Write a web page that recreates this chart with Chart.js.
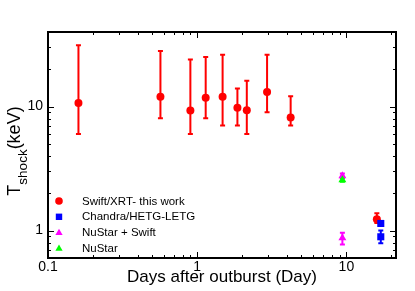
<!DOCTYPE html>
<html lang="en">
<head>
  <meta charset="UTF-8">
  <title>T shock vs days after outburst</title>
  <script src="https://cdn.jsdelivr.net/npm/chart.js"></script>
  <style>
    body { margin: 0; background: #fff; }
    #wrap { width: 415px; height: 291px; position: relative; }
  </style>
</head>
<body>
  <div id="wrap"><canvas id="tempChart"></canvas></div>

  <script>
    // values (days, keV)
    const swiftDays = [0.16, 0.567, 0.90, 1.14, 1.48, 1.86, 2.15, 2.94, 4.23, 16.0];
    const swiftT    = [10.7, 12.0, 9.3, 11.8, 12.0, 9.8, 9.33, 13.1, 8.15, 1.23];
    const swiftLo   = [6.0, 8.05, 6.0, 8.05, 7.03, 7.03, 6.0, 9.0, 7.03, 1.15];
    const swiftHi   = [31.2, 28.1, 24.0, 25.1, 26.2, 14.0, 16.2, 26.2, 12.1, 1.38];

    const chandraDays = [17.0, 17.0];
    const chandraT    = [1.14, 0.89];
    const chandraLo   = [1.09, 0.79];
    const chandraHi   = [1.19, 1.0];

    const nuSwiftDays = [9.4, 9.4];
    const nuSwiftT    = [2.76, 0.87];
    const nuSwiftLo   = [2.64, 0.77];
    const nuSwiftHi   = [2.88, 0.96];

    const nuDays = [9.4];
    const nuT    = [2.56];
    const nuLo   = [2.47];
    const nuHi   = [2.66];

    const xTicks = [0.1, 1, 10];
    const yTicks = [1, 10];

    const FONT = "'Liberation Sans', Arial, Helvetica, sans-serif";

    function pts(xs, ys) {
      return xs.map((x, i) => ({ x: x, y: ys[i] }));
    }

    function drawMarker(ctx, style, x, y, r, color) {
      ctx.fillStyle = color;
      ctx.beginPath();
      if (style === 'circle') {
        ctx.arc(x, y, r, 0, Math.PI * 2);
      } else if (style === 'rect') {
        ctx.rect(x - r, y - r, 2 * r, 2 * r);
      } else {
        ctx.moveTo(x, y - r);
        ctx.lineTo(x + r * 0.95, y + r * 0.65);
        ctx.lineTo(x - r * 0.95, y + r * 0.65);
        ctx.closePath();
      }
      ctx.fill();
    }

    const errorBars = {
      id: 'errorBars',
      beforeDatasetsDraw(chart) {
        const ctx = chart.ctx;
        const xs = chart.scales.x, ys = chart.scales.y;
        ctx.save();
        chart.data.datasets.forEach(ds => {
          ctx.strokeStyle = ds.backgroundColor;
          ctx.lineWidth = 2;
          ds.data.forEach((p, i) => {
            const px = xs.getPixelForValue(p.x);
            const y1 = ys.getPixelForValue(ds.errLo[i]);
            const y2 = ys.getPixelForValue(ds.errHi[i]);
            ctx.beginPath();
            ctx.moveTo(px, y1); ctx.lineTo(px, y2);
            ctx.moveTo(px - 2.5, y1); ctx.lineTo(px + 2.5, y1);
            ctx.moveTo(px - 2.5, y2); ctx.lineTo(px + 2.5, y2);
            ctx.stroke();
          });
        });
        ctx.restore();
      }
    };

    function logTicks(min, max) {
      const out = [];
      for (let e = -2; e <= 2; e++) {
        for (let m = 1; m <= 9; m++) {
          const v = m * Math.pow(10, e);
          if (v >= min * 0.999 && v <= max * 1.001) out.push({ v: v, major: m === 1 });
        }
      }
      return out;
    }

    const frame = {
      id: 'frame',
      afterDraw(chart) {
        const ctx = chart.ctx;
        const a = chart.chartArea;
        const xs = chart.scales.x, ys = chart.scales.y;
        ctx.save();
        ctx.strokeStyle = '#000';
        ctx.lineWidth = 1;
        ctx.beginPath();
        logTicks(xs.min, xs.max).forEach(t => {
          const px = Math.round(xs.getPixelForValue(t.v)) + 0.5;
          const len = t.major ? 6 : 3;
          ctx.moveTo(px, a.bottom); ctx.lineTo(px, a.bottom - len);
          ctx.moveTo(px, a.top); ctx.lineTo(px, a.top + len);
        });
        logTicks(ys.min, ys.max).forEach(t => {
          const py = Math.round(ys.getPixelForValue(t.v)) + 0.5;
          const len = t.major ? 6 : 3;
          ctx.moveTo(a.left, py); ctx.lineTo(a.left + len, py);
          ctx.moveTo(a.right, py); ctx.lineTo(a.right - len, py);
        });
        ctx.stroke();
        ctx.lineWidth = 2;
        ctx.strokeRect(a.left, a.top, a.right - a.left, a.bottom - a.top);

        // y title with subscript
        const big = 18, small = 13.5;
        ctx.fillStyle = '#000';
        ctx.textBaseline = 'alphabetic';
        ctx.textAlign = 'left';
        ctx.font = big + 'px ' + FONT;
        const wT = ctx.measureText('T').width;
        const wK = ctx.measureText('(keV)').width;
        ctx.font = small + 'px ' + FONT;
        const wS = ctx.measureText('shock').width;
        const total = wT + wS + wK;
        ctx.translate(20, 151 + total / 2);
        ctx.rotate(-Math.PI / 2);
        ctx.font = big + 'px ' + FONT;
        ctx.fillText('T', 0, 0);
        ctx.font = small + 'px ' + FONT;
        ctx.fillText('shock', wT, 7);
        ctx.font = big + 'px ' + FONT;
        ctx.fillText('(keV)', wT + wS, 0);
        ctx.restore();

        // legend inside the plot
        ctx.save();
        ctx.font = '11.5px ' + FONT;
        ctx.textBaseline = 'middle';
        ctx.fillStyle = '#000';
        chart.data.datasets.forEach((ds, i) => {
          const y = 201 + i * 15.8;
          const r = ds.pointStyle === 'rect' ? 3.2 : 3.8;
          drawMarker(ctx, ds.pointStyle, 59, y, r, ds.backgroundColor);
          ctx.fillStyle = '#000';
          ctx.fillText(ds.label, 82, y + 0.5);
        });
        ctx.restore();
      }
    };

    new Chart(document.getElementById('tempChart'), {
      type: 'scatter',
      data: {
        datasets: [
          {
            label: 'Swift/XRT- this work',
            data: pts(swiftDays, swiftT),
            errLo: swiftLo, errHi: swiftHi,
            backgroundColor: '#ff0000', borderColor: '#ff0000',
            pointStyle: 'circle', pointRadius: 4, pointBorderWidth: 0,
            order: 4
          },
          {
            label: 'Chandra/HETG-LETG',
            data: pts(chandraDays, chandraT),
            errLo: chandraLo, errHi: chandraHi,
            backgroundColor: '#0000ff', borderColor: '#0000ff',
            pointStyle: 'rect', pointRadius: 5, pointBorderWidth: 0,
            order: 3
          },
          {
            label: 'NuStar + Swift',
            data: pts(nuSwiftDays, nuSwiftT),
            errLo: nuSwiftLo, errHi: nuSwiftHi,
            backgroundColor: '#ff00ff', borderColor: '#ff00ff',
            pointStyle: 'triangle', pointRadius: 4.6, pointBorderWidth: 0,
            order: 2
          },
          {
            label: 'NuStar',
            data: pts(nuDays, nuT),
            errLo: nuLo, errHi: nuHi,
            backgroundColor: '#00ff00', borderColor: '#00ff00',
            pointStyle: 'triangle', pointRadius: 4.6, pointBorderWidth: 0,
            order: 1
          }
        ]
      },
      options: {
        responsive: true,
        maintainAspectRatio: false,
        animation: false,
        layout: { padding: { top: 32, right: 19, left: 0, bottom: 0 } },
        plugins: {
          legend: { display: false },
          tooltip: { enabled: false }
        },
        scales: {
          x: {
            type: 'logarithmic',
            min: 0.1,
            max: 21.5,
            grid: { display: false, drawTicks: false },
            border: { display: false },
            afterBuildTicks: axis => { axis.ticks = xTicks.map(v => ({ value: v })); },
            afterFit: axis => { axis.height = 33; },
            ticks: {
              autoSkip: false,
              maxRotation: 0,
              padding: 1,
              color: '#000',
              font: { family: FONT, size: 14 },
              callback: v => String(v)
            },
            title: {
              display: true,
              text: 'Days after outburst (Day)',
              color: '#000',
              font: { family: FONT, size: 17 },
              padding: { top: 0, bottom: 3 }
            }
          },
          y: {
            type: 'logarithmic',
            min: 0.6,
            max: 40,
            grid: { display: false, drawTicks: false },
            border: { display: false },
            afterBuildTicks: axis => { axis.ticks = yTicks.map(v => ({ value: v })); },
            afterFit: axis => { axis.width = 48; },
            ticks: {
              autoSkip: false,
              padding: 5,
              color: '#000',
              font: { family: FONT, size: 14 },
              callback: v => String(v)
            }
          }
        }
      },
      plugins: [errorBars, frame]
    });
  </script>
</body>
</html>
